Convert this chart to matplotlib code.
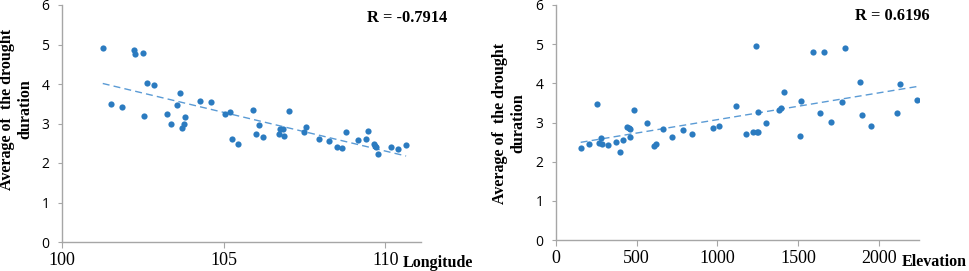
import numpy as np
import matplotlib
matplotlib.use("Agg")
import matplotlib.pyplot as plt

# ---- data ----
lon = [101.26, 101.52, 101.86, 102.23, 102.25, 102.51, 102.53, 102.64, 102.83,
       103.26, 103.36, 103.55, 103.66, 103.71, 103.76, 103.81, 104.28, 104.60,
       105.05, 105.18, 105.27, 105.43, 105.90, 106.00, 106.08, 106.20, 106.72,
       106.74, 106.82, 106.87, 107.02, 107.47, 107.54, 107.96, 108.24, 108.51,
       108.67, 108.77, 109.16, 109.41, 109.46, 109.65, 109.69, 109.71, 109.77,
       110.16, 110.39, 110.64]
lon_dur = [4.92, 3.50, 3.41, 4.86, 4.75, 4.78, 3.20, 4.03, 3.97,
           3.23, 2.98, 3.46, 3.76, 2.88, 3.00, 3.16, 3.57, 3.54,
           3.25, 3.29, 2.61, 2.49, 3.35, 2.73, 2.96, 2.67, 2.73,
           2.86, 2.87, 2.69, 3.31, 2.79, 2.91, 2.62, 2.55, 2.41,
           2.39, 2.79, 2.59, 2.61, 2.82, 2.47, 2.44, 2.41, 2.24,
           2.41, 2.35, 2.45]

elev = [153, 202, 252, 267, 279, 285, 320, 374, 395, 415, 438, 450, 459, 461,
        486, 566, 605, 618, 663, 717, 789, 845, 971, 1010, 1118, 1178, 1221,
        1238, 1246, 1250, 1254, 1300, 1380, 1393, 1411, 1512, 1519, 1593, 1638,
        1659, 1705, 1771, 1789, 1886, 1897, 1955, 2114, 2134, 2236]
elev_dur = [2.35, 2.44, 3.47, 2.48, 2.60, 2.44, 2.42, 2.50, 2.25, 2.56, 2.88,
            2.86, 2.83, 2.63, 3.33, 2.98, 2.40, 2.46, 2.84, 2.63, 2.81, 2.71,
            2.87, 2.92, 3.43, 2.70, 2.76, 4.95, 2.76, 3.27, 2.76, 3.00, 3.32,
            3.38, 3.79, 2.65, 3.55, 4.80, 3.23, 4.80, 3.02, 3.53, 4.90, 4.04,
            3.19, 2.90, 3.25, 3.98, 3.58]

left_xticks = [100, 105, 110]
right_xticks = [0, 500, 1000, 1500, 2000]
yticks = [0, 1, 2, 3, 4, 5, 6]
r_left = "R = -0.7914"
r_right = "R = 0.6196"
ylabel = "Average of  the drought\nduration"

# ---- style ----
SERIF = "Liberation Serif"
SANS = "Open Sans"
PT_COLOR = "#2b7bc0"
LINE_COLOR = "#5b9bd5"
SPINE = "#a6a6a6"
W, H = 969, 271

fig = plt.figure(figsize=(W / 100, H / 100), dpi=100)

def panel(rect, x, y, xlim, xticks, rtext, rpos, xname, xname_pos, label_pos):
    ax = fig.add_axes(rect)
    ax.scatter(x, y, s=20, color=PT_COLOR, zorder=3, linewidths=0)
    k, b = np.polyfit(x, y, 1)
    xs = np.array([min(x), max(x)])
    ax.plot(xs, k * xs + b, linestyle=(0, (5, 3)), color=LINE_COLOR, lw=1.0, zorder=2)
    ax.set_xlim(*xlim)
    ax.set_ylim(0, 6)
    ax.set_xticks(xticks)
    ax.set_yticks(yticks)
    for s in ("top", "right"):
        ax.spines[s].set_visible(False)
    for s in ("left", "bottom"):
        ax.spines[s].set_color(SPINE)
        ax.spines[s].set_linewidth(1.0)
    ax.tick_params(axis="x", length=4, color=SPINE, pad=3)
    ax.tick_params(axis="y", length=3, color=SPINE, pad=6)
    for t in ax.get_xticklabels():
        t.set_fontfamily(SERIF)
        t.set_fontsize(13)
    for t in ax.get_yticklabels():
        t.set_fontfamily(SANS)
        t.set_fontsize(10)
    fig.text(rpos[0] / W, 1 - rpos[1] / H, rtext, ha="right", va="center",
             fontfamily=SERIF, fontweight="bold", fontsize=11.8)
    fig.text(xname_pos[0] / W, 1 - xname_pos[1] / H, xname, ha="right", va="center",
             fontfamily=SERIF, fontweight="bold", fontsize=11.5)
    fig.text(label_pos[0] / W, 1 - label_pos[1] / H, ylabel, rotation=90,
             ha="center", va="center", fontfamily=SERIF, fontweight="bold",
             fontsize=11.5, linespacing=1.15)
    return ax

panel([62 / W, 29 / H, 359 / W, 237 / H], lon, lon_dur, (100, 111.1), left_xticks,
      r_left, (447, 18), "Longitude", (473, 263), (16, 109))
panel([556 / W, 31 / H, 363 / W, 235 / H], elev, elev_dur, (0, 2250), right_xticks,
      r_right, (930, 16), "Elevation", (967, 262), (509, 123))

fig.savefig("out.png", dpi=100)
